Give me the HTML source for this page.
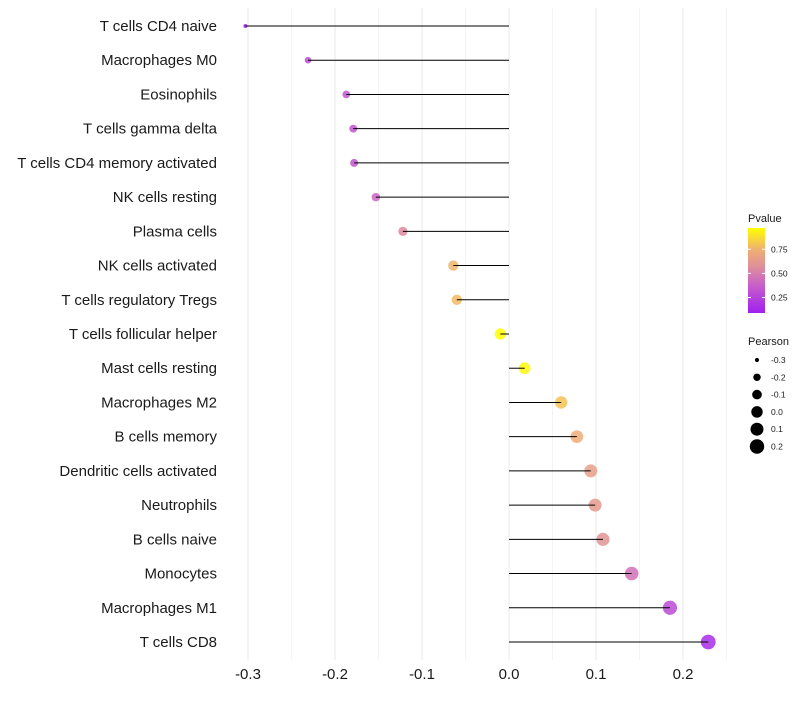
<!DOCTYPE html>
<html><head><meta charset="utf-8"><style>
body{margin:0;background:#fff;font-family:"Liberation Sans",sans-serif}
</style></head><body>
<svg id="c" width="800" height="700" xmlns="http://www.w3.org/2000/svg" font-family="Liberation Sans, sans-serif"></svg>
<script>
const categories=["T cells CD4 naive","Macrophages M0","Eosinophils","T cells gamma delta","T cells CD4 memory activated","NK cells resting","Plasma cells","NK cells activated","T cells regulatory  Tregs ","T cells follicular helper","Mast cells resting","Macrophages M2","B cells memory","Dendritic cells activated","Neutrophils","B cells naive","Monocytes","Macrophages M1","T cells CD8"];
const pearson=[-0.303,-0.231,-0.187,-0.179,-0.178,-0.153,-0.122,-0.064,-0.060,-0.010,0.018,0.060,0.078,0.094,0.099,0.108,0.141,0.185,0.229];
const pvalues=[0.08,0.30,0.33,0.33,0.33,0.40,0.55,0.76,0.78,0.97,0.95,0.80,0.72,0.65,0.63,0.60,0.45,0.28,0.15];
const xTicks=[-0.3,-0.2,-0.1,0.0,0.1,0.2];
const xTickLabels=["-0.3","-0.2","-0.1","0.0","0.1","0.2"];
const pLegendTicks=[0.25,0.50,0.75];
const sizeLegend=[-0.3,-0.2,-0.1,0.0,0.1,0.2];

const svg=document.getElementById('c');const NS="http://www.w3.org/2000/svg";
function mk(t,a,p){const e=document.createElementNS(NS,t);for(const k in a)e.setAttribute(k,a[k]);(p||svg).appendChild(e);return e;}
const x=v=>509+v*870;
const y=i=>26+i*(642-26)/(categories.length-1);
const r=v=>Math.sqrt(Math.max(0,4+95*(v+0.303)));
function hex(c){return c.map(v=>Math.round(v).toString(16).padStart(2,'0')).join('');}
const stops=[[0,[160,32,240]],[0.33,[200,96,200]],[0.55,[224,144,154]],[0.75,[240,176,112]],[1,[255,255,0]]];
function col(p){p=Math.max(0,Math.min(1,(p-0.09)/(0.97-0.09)));for(let i=1;i<stops.length;i++){if(p<=stops[i][0]){const a=stops[i-1],b=stops[i],t=(p-a[0])/(b[0]-a[0]);return '#'+hex(a[1].map((v,k)=>v+(b[1][k]-v)*t));}}return '#ffff00';}

const g=mk('g',{});
for(let v=-0.3;v<=0.2501;v+=0.05){mk('line',{x1:x(v),x2:x(v),y1:8,y2:660,stroke:'#ebebeb','stroke-width':Math.abs(Math.round(v*20)%2)?0.6:1.1},g);}
categories.forEach((c,i)=>{const t=mk('text',{x:217,y:y(i)+5,'text-anchor':'end','font-size':15,fill:'#1a1a1a'});t.textContent=c;
});
xTicks.forEach((v,i)=>{const t=mk('text',{x:x(v),y:679,'text-anchor':'middle','font-size':15,fill:'#1a1a1a'});t.textContent=xTickLabels[i];
});
categories.forEach((c,i)=>{
const d=mk('circle',{cx:x(pearson[i]),cy:y(i),r:r(pearson[i]),fill:col(pvalues[i]),'fill-opacity':0.85});

const l=mk('line',{x1:x(0),x2:x(pearson[i]),y1:y(i),y2:y(i),stroke:'#000','stroke-width':1});
});
const lg=mk('g',{});
const t1=mk('text',{x:748,y:222,'font-size':11,fill:'#1a1a1a'},lg);t1.textContent='Pvalue';
const defs=mk('defs',{});const gr=mk('linearGradient',{id:'pg',x1:0,y1:1,x2:0,y2:0},defs);
stops.forEach(s=>mk('stop',{offset:s[0],'stop-color':'#'+hex(s[1])},gr));
mk('rect',{x:748,y:228,width:17,height:85,fill:'url(#pg)'},lg);
const py=p=>313-(p-0.09)/(0.88)*85;
pLegendTicks.forEach(p=>{mk('line',{x1:748,x2:751,y1:py(p),y2:py(p),stroke:'#fff'},lg);mk('line',{x1:762,x2:765,y1:py(p),y2:py(p),stroke:'#fff'},lg);
const t=mk('text',{x:771,y:py(p)+3,'font-size':8.5,fill:'#1a1a1a'},lg);t.textContent=p.toFixed(2);});
const sg=mk('g',{});
const t2=mk('text',{x:748,y:345,'font-size':11,fill:'#1a1a1a'},sg);t2.textContent='Pearson';
sizeLegend.forEach((v,i)=>{const cy=360+i*17.3;mk('circle',{cx:757,cy:cy,r:r(v),fill:'#000'},sg);
const t=mk('text',{x:771,y:cy+3,'font-size':8.5,fill:'#1a1a1a'},sg);t.textContent=v.toFixed(1);});
</script>
</body></html>
